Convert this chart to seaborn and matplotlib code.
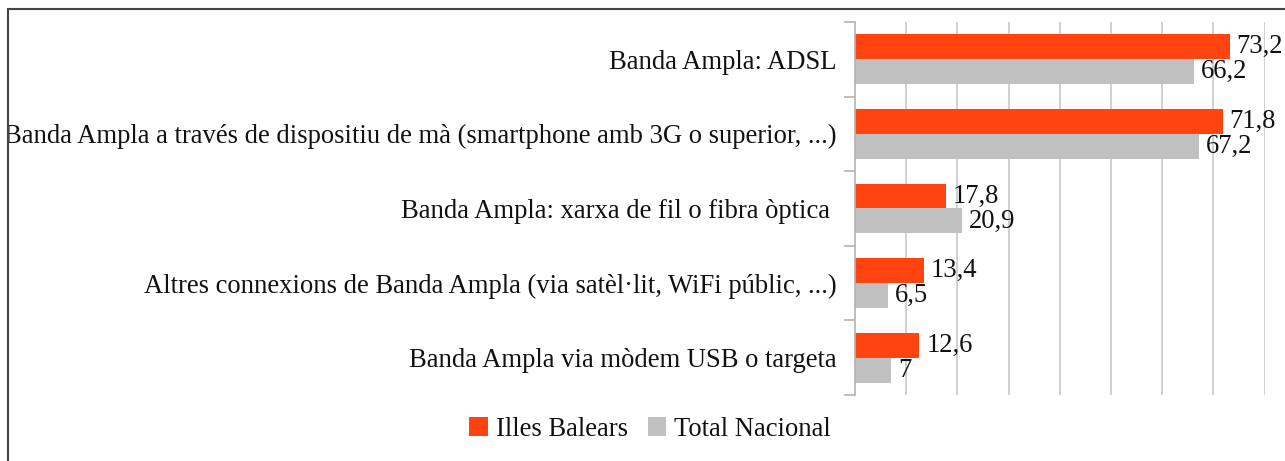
import matplotlib
matplotlib.use("Agg")
import matplotlib.pyplot as plt
from matplotlib.patches import Rectangle, Patch
from matplotlib.lines import Line2D
import seaborn as sns
import pandas as pd
import numpy as np

categories = [
    "Banda Ampla: ADSL",
    "Banda Ampla a través de dispositiu de mà (smartphone amb 3G o superior, ...)",
    "Banda Ampla: xarxa de fil o fibra òptica ",
    "Altres connexions de Banda Ampla (via satèl·lit, WiFi públic, ...)",
    "Banda Ampla via mòdem USB o targeta",
]
series_names = ["Illes Balears", "Total Nacional"]
illes_balears = [73.2, 71.8, 17.8, 13.4, 12.6]
total_nacional = [66.2, 67.2, 20.9, 6.5, 7.0]
colors = ["#FF4411", "#C0C0C0"]

df = pd.DataFrame({
    "cat": categories * 2,
    "serie": [series_names[0]] * len(categories) + [series_names[1]] * len(categories),
    "val": illes_balears + total_nacional,
})

sns.set_theme(style="white")
plt.rcParams["font.family"] = ["Liberation Serif", "DejaVu Serif"]

fig = plt.figure(figsize=(12.85, 4.61), dpi=100)
ax = fig.add_axes([855 / 1285, 1 - 395 / 461, (1264.5 - 855) / 1285, (395 - 22) / 461])

sns.barplot(data=df, y="cat", x="val", hue="serie", order=categories,
            hue_order=series_names, palette=colors, orient="h",
            width=0.67, saturation=1, legend=False, ax=ax, linewidth=0)

fs = 19.2
for cont, vals in zip(ax.containers, [illes_balears, total_nacional]):
    labels = [f"{v:g}".replace(".", ",") for v in vals]
    ax.bar_label(cont, labels=labels, padding=5, fontsize=fs, color="#111111")

ax.set_xlim(0, 80)
ax.set_ylim(len(categories) - 0.5, -0.5)
ax.set_xticks(np.arange(10, 81, 10))
ax.set_xticklabels([])
ax.tick_params(axis="x", length=0)
ax.grid(axis="x", color="#c8c8c8", linewidth=1.2)
ax.set_axisbelow(True)
ax.set_xlabel("")
ax.set_ylabel("")
for s in ["top", "right", "bottom"]:
    ax.spines[s].set_visible(False)
ax.spines["left"].set_color("#b3b3b3")
ax.spines["left"].set_linewidth(1.2)

ax.set_yticks(np.arange(-0.5, len(categories), 1.0), minor=True)
ax.tick_params(axis="y", which="minor", left=True, length=8, color="#b3b3b3", width=1.2,
               direction="out")
ax.tick_params(axis="y", which="major", left=True, length=0, pad=13.5, labelsize=fs,
               labelcolor="#111111")

handles = [Patch(facecolor=c, edgecolor="none") for c in colors]
fig.legend(handles, series_names, loc="center", bbox_to_anchor=(650 / 1285, 1 - 429 / 461),
           ncol=2, frameon=False, fontsize=fs, handlelength=0.7, handleheight=0.7,
           handletextpad=0.3, columnspacing=0.75, labelcolor="#111111")

# outer frame (image is cropped: only top and left edges visible)
fig.patches.append(Rectangle((0, 0), 8 / 1285, 1, transform=fig.transFigure,
                             facecolor="white", edgecolor="none", zorder=10))
fig.lines.append(Line2D([8 / 1285, 1], [1 - 9 / 461, 1 - 9 / 461], transform=fig.transFigure,
                        color="#444444", linewidth=1.5, zorder=11))
fig.lines.append(Line2D([8 / 1285, 8 / 1285], [0, 1 - 9 / 461], transform=fig.transFigure,
                        color="#444444", linewidth=1.5, zorder=11))

fig.savefig("out.png", dpi=100)
